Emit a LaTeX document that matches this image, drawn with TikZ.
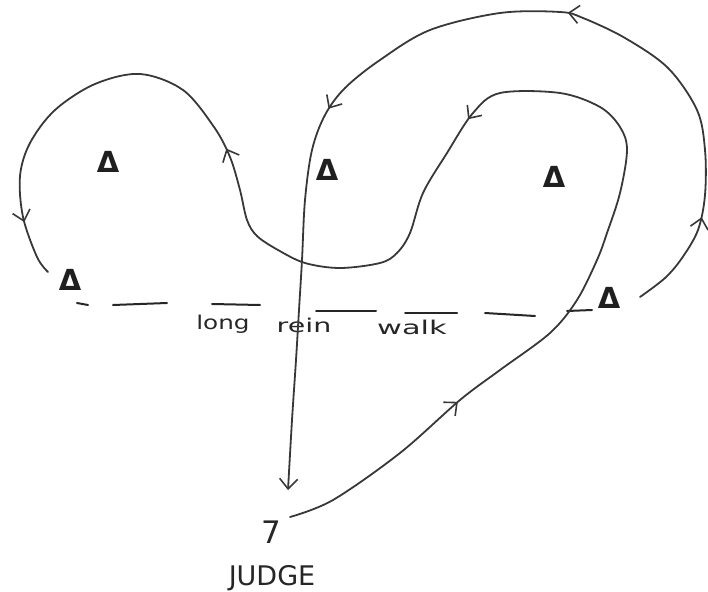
\documentclass[tikz,border=0pt]{standalone}
\usepackage{fontspec}
\setmainfont{DejaVu Sans}
\usetikzlibrary{arrows.meta,decorations.markings}
\begin{document}
\begin{tikzpicture}[x=1pt,y=-1pt,
  route/.style={draw=black!78, line width=1.8pt, line cap=round, line join=round},
  chev/.tip={Straight Barb[length=10pt,width=18pt,line width=1.6pt]},
  cone/.style={font=\bfseries\fontsize{29}{29}\selectfont, text=black!88, inner sep=0pt},
  walkdash/.style={draw=black!85, line width=2pt, line cap=round},
  hand/.style={font=\fontsize{19}{19}\selectfont, text=black!85, inner sep=0pt, anchor=base}]
\useasboundingbox (0,0) rectangle (708,591);

% cones
\node[cone] (c1) at (108,162) {Δ};
\node[cone] (c2) at (327,170) {Δ};
\node[cone] (c3) at (554,177) {Δ};
\node[cone] (c4) at (70,280) {Δ};
\node[cone] (c5) at (609,298) {Δ};

% judge
\node[font=\fontsize{31}{31}\selectfont, text=black!85] (seven) at (271,532) {7};
\node[font=\fontsize{27}{27}\selectfont, text=black!85] (judge) at (272,578) {JUDGE};

% label
\node[hand] (w1) at (223,329) {\scalebox{1.3}[1]{long}};
\node[hand] (w2) at (304,332) {\scalebox{1.5}[1]{rein}};
\node[hand] (w3) at (412,334) {\scalebox{1.6}[1]{walk}};

% dashes of the long rein walk line
\draw[walkdash] (77,303) -- (88,305);
\draw[walkdash] (113,305) -- (167,303);
\draw[walkdash] (212,304) -- (260,305);
\draw[walkdash] (316,311) -- (376,311);
\draw[walkdash] (405,313) -- (457,313);
\draw[walkdash] (485,313) -- (535,316);
\draw[walkdash] (567,311) -- (592,310);

\coordinate (s1) at (290,517);
\coordinate (e1) at (48,272);
\coordinate (s2) at (640,297);
\coordinate (e2) at (288,490);

% inner route: from judge, S-bend, left loop
\draw[route, postaction={decorate}, decoration={markings,
   mark=at position 0.136 with {\arrow{chev}},
   mark=at position 0.477 with {\arrow{chev}},
   mark=at position 0.740 with {\arrow{chev}},
   mark=at position 0.963 with {\arrow{chev}}}]
  plot[smooth, tension=0.55] coordinates {(s1) (333,500) (400,453) (460,400) (500,370) (550,333) (577,300) (597,260) (607,233) (620,193) (627,150) (620,127) (600,107) (560,93) (500,93) (473,113) (447,153) (423,193) (410,233) (397,253) (380,263) (340,268) (305,263) (278,250) (257,236) (247,220) (240,190) (230,157) (214,127) (183,90) (140,74) (95,84) (55,110) (30,143) (20,176) (23,217) (37,257) (e1)};

% outer route: big loop back down to the judge
\draw[route, -chev, postaction={decorate}, decoration={markings,
   mark=at position 0.10 with {\arrow{chev}},
   mark=at position 0.366 with {\arrow{chev}},
   mark=at position 0.627 with {\arrow{chev}}}]
  plot[smooth, tension=0.55] coordinates {(s2) (665,278) (682,258) (698,230) (705,195) (705,150) (697,110) (668,68) (625,38) (583,18) (560,12) (500,13) (430,30) (380,60) (345,88) (325,115) (312,150) (305,200) (302,260) (299,310) (296,360) (292,420) (e2)};
\end{tikzpicture}
\end{document}
